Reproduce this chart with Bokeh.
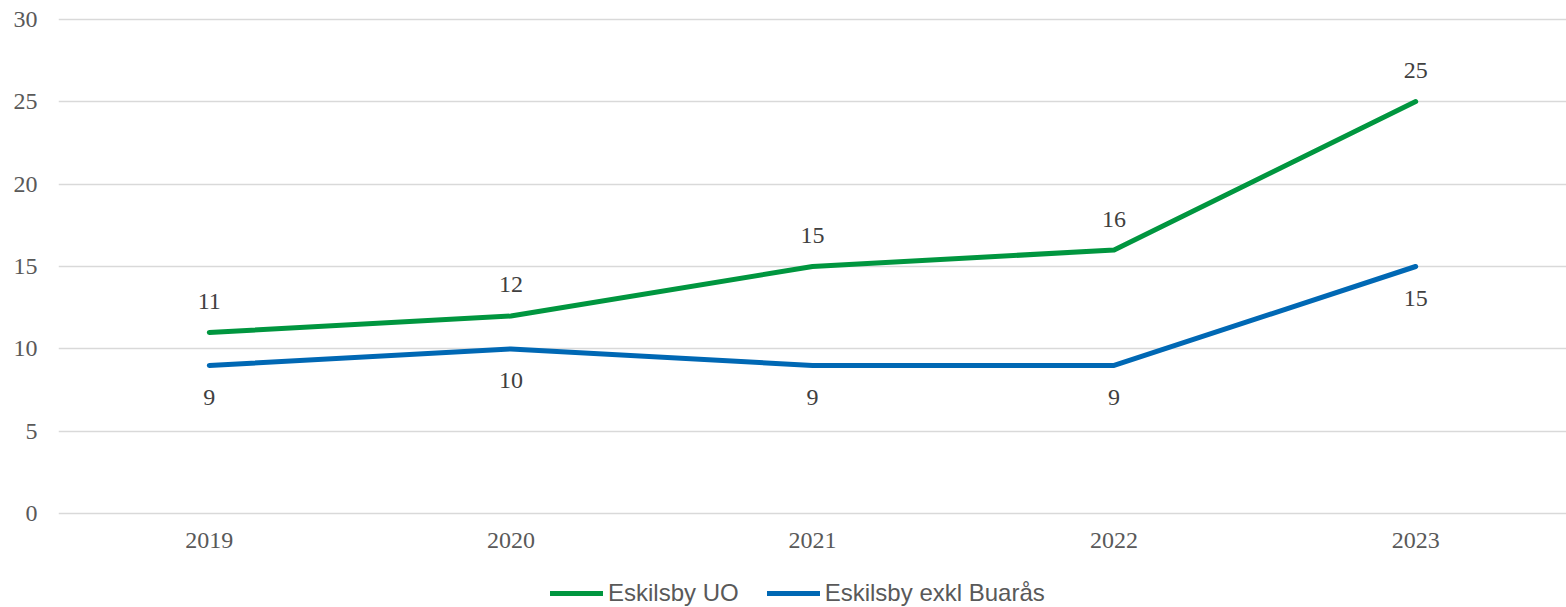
from bokeh.plotting import figure
from bokeh.layouts import column
from bokeh.models import ColumnDataSource, LabelSet, Legend, LegendItem, FixedTicker
from bokeh.embed import file_html
from bokeh.resources import INLINE

years = ["2019", "2020", "2021", "2022", "2023"]
uo_values = [11, 12, 15, 16, 25]
exkl_values = [9, 10, 9, 9, 15]
series_names = ["Eskilsby UO", "Eskilsby exkl Buarås"]
y_ticks = [0, 5, 10, 15, 20, 25, 30]

GREEN = "#00963F"
BLUE = "#0068B4"
SERIF = "Liberation Serif"
SANS = "Liberation Sans"

p = figure(x_range=years, y_range=(-0.1, 30.1), frame_width=1508, frame_height=498,
           min_border_left=58, min_border_right=0, min_border_top=17, min_border_bottom=50,
           output_backend="svg", toolbar_location=None, background_fill_color="white")
p.outline_line_color = None

src_uo = ColumnDataSource(dict(x=years, y=uo_values, t=[str(v) for v in uo_values]))
src_ex = ColumnDataSource(dict(x=years, y=exkl_values, t=[str(v) for v in exkl_values]))

r1 = p.line("x", "y", source=src_uo, line_color=GREEN, line_width=5, line_cap="round", line_join="round")
r2 = p.line("x", "y", source=src_ex, line_color=BLUE, line_width=5, line_cap="round", line_join="round")

for src, off in ((src_uo, 31), (src_ex, -32)):
    p.add_layout(LabelSet(x="x", y="y", text="t", source=src, y_offset=off,
                          text_align="center", text_baseline="middle",
                          text_font=SERIF, text_font_size="24px", text_color="#404040"))

p.yaxis.ticker = FixedTicker(ticks=y_ticks)
p.xgrid.grid_line_color = None
p.ygrid.grid_line_color = "#D9D9D9"
p.ygrid.grid_line_width = 1.5
for ax in (p.xaxis, p.yaxis):
    ax.axis_line_color = None
    ax.major_tick_line_color = None
    ax.minor_tick_line_color = None
    ax.major_tick_out = 0
    ax.major_tick_in = 0
    ax.major_label_text_font = SERIF
    ax.major_label_text_font_size = "24px"
    ax.major_label_text_color = "#595959"
p.yaxis.major_label_standoff = 21
p.xaxis.major_label_standoff = 17

# legend strip below the chart
p2 = figure(x_range=years, y_range=(100, 101), width=1566, height=42,
            min_border=0, output_backend="svg", toolbar_location=None)
p2.outline_line_color = None
p2.axis.visible = False
p2.grid.grid_line_color = None
l1 = p2.line("x", "y", source=src_uo, line_color=GREEN, line_width=5, line_cap="round")
l2 = p2.line("x", "y", source=src_ex, line_color=BLUE, line_width=5, line_cap="round")

legend = Legend(items=[LegendItem(label=series_names[0], renderers=[l1]),
                       LegendItem(label=series_names[1], renderers=[l2])],
                orientation="horizontal", location=(492, 0),
                label_text_font=SANS, label_text_font_size="24px", label_text_color="#595959",
                label_height=26, glyph_height=26,
                glyph_width=53, label_standoff=5, spacing=28, padding=0, margin=0,
                border_line_color=None, background_fill_alpha=0)
p2.add_layout(legend, "center")

layout = column(p, p2, spacing=0)
open("out.html", "w").write(file_html(layout, INLINE))
